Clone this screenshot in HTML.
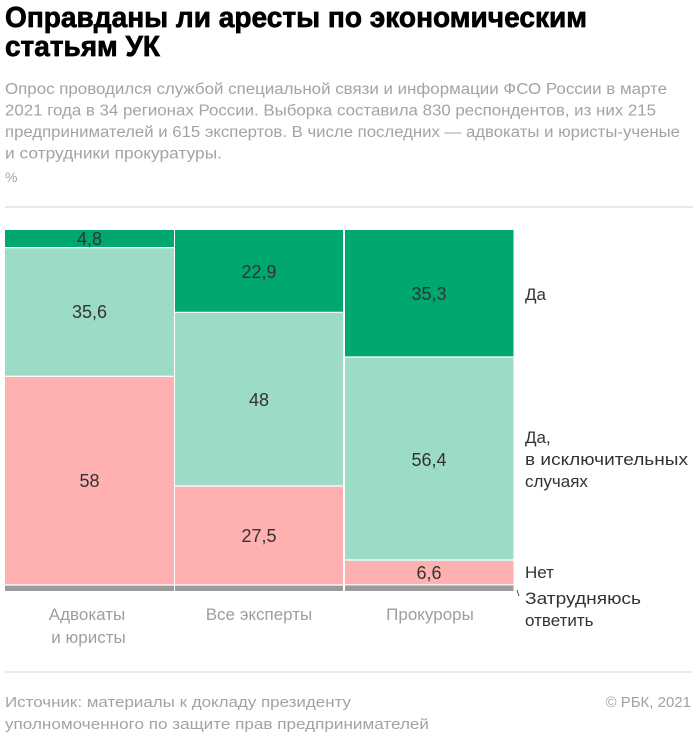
<!DOCTYPE html>
<html>
<head>
<meta charset="utf-8">
<style>
html,body{margin:0;padding:0;background:#fff;}
svg{display:block;}
text{font-family:"Liberation Sans","Noto Sans CJK SC",sans-serif;}
</style>
</head>
<body>
<svg width="694" height="738" viewBox="0 0 694 738" xmlns="http://www.w3.org/2000/svg">
<rect width="694" height="738" fill="#fff"/>
<!-- Title -->
<g stroke="#000" stroke-width="0.7">
<text x="5" y="27" font-size="29" font-weight="bold" fill="#000" textLength="582" lengthAdjust="spacingAndGlyphs">Оправданы ли аресты по экономическим</text>
<text x="5" y="56" font-size="29" font-weight="bold" fill="#000" textLength="155" lengthAdjust="spacingAndGlyphs">статьям УК</text>
</g>
<!-- Subtitle -->
<g font-size="15.5" fill="#a3a3a3">
<text x="5" y="94" textLength="662" lengthAdjust="spacingAndGlyphs">Опрос проводился службой специальной связи и информации ФСО России в марте</text>
<text x="5" y="115.5" textLength="651" lengthAdjust="spacingAndGlyphs">2021 года в 34 регионах России. Выборка составила 830 респондентов, из них 215</text>
<text x="5" y="137" textLength="675" lengthAdjust="spacingAndGlyphs">предпринимателей и 615 экспертов. В числе последних — адвокаты и юристы-ученые</text>
<text x="5" y="158.5" textLength="217" lengthAdjust="spacingAndGlyphs">и сотрудники прокуратуры.</text>
<text x="5" y="182" font-size="14">%</text>
</g>
<rect x="5" y="206" width="688" height="2" fill="#e8e8e8"/>

<!-- Column 1 -->
<rect x="5" y="230" width="169" height="17.3" fill="#00a86d"/>
<rect x="5" y="247.3" width="169" height="128.5" fill="#9cdcc6"/>
<rect x="5" y="375.8" width="169" height="209.4" fill="#ffb1b1"/>
<rect x="5" y="585.2" width="169" height="5.8" fill="#9b9b9b"/>
<!-- Column 2 -->
<rect x="175" y="230" width="168" height="82.7" fill="#00a86d"/>
<rect x="175" y="312.7" width="168" height="173.3" fill="#9cdcc6"/>
<rect x="175" y="486" width="168" height="99.3" fill="#ffb1b1"/>
<rect x="175" y="585.3" width="168" height="5.7" fill="#9b9b9b"/>
<!-- Column 3 -->
<rect x="345" y="230" width="168.5" height="127.4" fill="#00a86d"/>
<rect x="345" y="357.4" width="168.5" height="203.6" fill="#9cdcc6"/>
<rect x="345" y="561" width="168.5" height="23.8" fill="#ffb1b1"/>
<rect x="345" y="584.8" width="168.5" height="6.2" fill="#9b9b9b"/>
<!-- white separators -->
<g stroke="#fff" stroke-width="1.2">
<line x1="5" y1="247.6" x2="174" y2="247.6"/>
<line x1="5" y1="376.3" x2="174" y2="376.3"/>
<line x1="5" y1="585" x2="174" y2="585"/>
<line x1="175" y1="312.3" x2="343" y2="312.3"/>
<line x1="175" y1="486" x2="343" y2="486"/>
<line x1="175" y1="585" x2="343" y2="585"/>
<line x1="345" y1="357" x2="513.5" y2="357"/>
<line x1="345" y1="560" x2="513.5" y2="560"/>
<line x1="345" y1="584.8" x2="513.5" y2="584.8"/>
</g>
<!-- Value labels -->
<g font-size="18" fill="#333" text-anchor="middle">
<text x="89.5" y="245">4,8</text>
<text x="89.5" y="318">35,6</text>
<text x="89.5" y="487">58</text>
<text x="259" y="278">22,9</text>
<text x="259" y="406">48</text>
<text x="259" y="542">27,5</text>
<text x="429" y="300">35,3</text>
<text x="429" y="466">56,4</text>
<text x="429" y="579">6,6</text>
</g>
<!-- Category labels -->
<g font-size="17" fill="#9e9e9e" text-anchor="middle">
<text x="87" y="620">Адвокаты</text>
<text x="88.5" y="643">и юристы</text>
<text x="259" y="620">Все эксперты</text>
<text x="430" y="620">Прокуроры</text>
</g>
<!-- Right legend -->
<g font-size="17" fill="#333">
<text x="525" y="300">Да</text>
<text x="525" y="443">Да,</text>
<text x="525" y="465" textLength="163" lengthAdjust="spacingAndGlyphs">в исключительных</text>
<text x="525" y="487">случаях</text>
<text x="525" y="578">Нет</text>
<text x="525" y="604" textLength="116" lengthAdjust="spacingAndGlyphs">Затрудняюсь</text>
<text x="525" y="626">ответить</text>
</g>
<line x1="517" y1="590" x2="519" y2="596" stroke="#555" stroke-width="1"/>

<!-- Footer -->
<rect x="5" y="671" width="688" height="2" fill="#ececec"/>
<g font-size="15" fill="#a3a3a3">
<text x="5" y="707" textLength="346" lengthAdjust="spacingAndGlyphs">Источник: материалы к докладу президенту</text>
<text x="5" y="729" textLength="424" lengthAdjust="spacingAndGlyphs">уполномоченного по защите прав предпринимателей</text>
<text x="691" y="707" text-anchor="end">© РБК, 2021</text>
</g>
</svg>
</body>
</html>
